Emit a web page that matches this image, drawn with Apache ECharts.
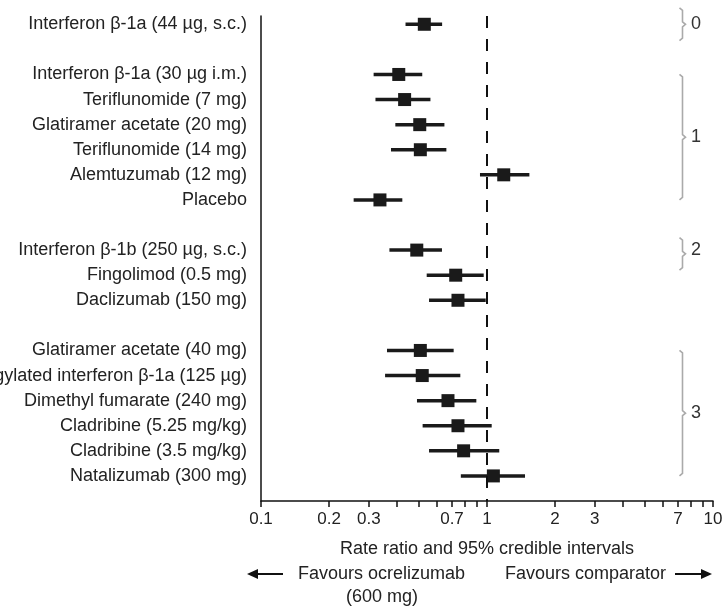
<!DOCTYPE html>
<html>
<head>
<meta charset="utf-8">
<script src="https://cdn.jsdelivr.net/npm/echarts@6/dist/echarts.min.js"></script>
<style>html,body{margin:0;padding:0;background:#fff;}#c{width:725px;height:606px;}</style>
</head>
<body>
<div id="c"></div>
<script>
const rowNames = [
  'Interferon β-1a (44 µg, s.c.)', '',
  'Interferon β-1a (30 µg i.m.)', 'Teriflunomide (7 mg)', 'Glatiramer acetate (20 mg)',
  'Teriflunomide (14 mg)', 'Alemtuzumab (12 mg)', 'Placebo', '',
  'Interferon β-1b (250 µg, s.c.)', 'Fingolimod (0.5 mg)', 'Daclizumab (150 mg)', '',
  'Glatiramer acetate (40 mg)', 'Pegylated interferon β-1a (125 µg)', 'Dimethyl fumarate (240 mg)',
  'Cladribine (5.25 mg/kg)', 'Cladribine (3.5 mg/kg)', 'Natalizumab (300 mg)'
];
const pointEst = [0.528, null, 0.407, 0.432, 0.504, 0.507, 1.186, 0.336, null, 0.489, 0.727, 0.744, null, 0.507, 0.517, 0.672, 0.744, 0.788, 1.067];
const lowerCI  = [0.436, null, 0.315, 0.321, 0.393, 0.376, 0.931, 0.257, null, 0.370, 0.541, 0.554, null, 0.361, 0.354, 0.490, 0.519, 0.554, 0.766];
const upperCI  = [0.633, null, 0.517, 0.562, 0.648, 0.661, 1.540, 0.422, null, 0.632, 0.967, 0.987, null, 0.712, 0.762, 0.897, 1.049, 1.133, 1.473];
const tickValues  = [0.1, 0.2, 0.3, 0.4, 0.5, 0.6, 0.7, 0.8, 0.9, 1, 2, 3, 4, 5, 6, 7, 8, 9, 10];
const tickLabels  = [0.1, 0.2, 0.3, 0.7, 1, 2, 3, 7, 10];
const groupLabels = ['0', '1', '2', '3'];
const groupFrom   = [-0.65, 2, 8.5, 13];
const groupTo     = [0.65, 7, 9.8, 18];
const groupLabelAt = [0, 4.5, 9, 15.5];

const FONT = '"Liberation Sans", Arial, sans-serif';
const TXT = '#222';

const ciData = [];
pointEst.forEach((p, i) => { if (p != null) ciData.push([lowerCI[i], p, upperCI[i], i]); });
const labelRows = [];
rowNames.forEach((n, i) => { if (n) labelRows.push(i); });
const groupData = groupLabels.map((g, i) => [1, groupFrom[i], groupTo[i], groupLabelAt[i], i]);

const chart = echarts.init(document.getElementById('c'));
chart.setOption({
  animation: false,
  backgroundColor: '#fff',
  grid: { left: 261, right: 12, top: 16, bottom: 105, containLabel: false, outerBoundsMode: 'none' },
  xAxis: {
    type: 'log', logBase: 10, min: 0.1, max: 10,
    axisLine: { show: true, onZero: false, lineStyle: { color: '#111', width: 1.5 } },
    axisTick: { show: true, customValues: tickValues, length: 6, lineStyle: { color: '#111', width: 1.5 } },
    axisLabel: { customValues: tickLabels, margin: 10, fontSize: 17, fontFamily: FONT, color: TXT,
      formatter: v => String(+(+v).toPrecision(3)) },
    splitLine: { show: false },
    minorTick: { show: false },
    name: 'Rate ratio and 95% credible intervals',
    nameLocation: 'middle', nameGap: 39, nameMoveOverlap: false,
    nameTextStyle: { fontSize: 18, fontFamily: FONT, color: TXT }
  },
  yAxis: {
    type: 'value', inverse: true, min: -0.33, max: 19,
    axisLine: { show: true, onZero: false, lineStyle: { color: '#111', width: 1.5 } },
    axisTick: { show: false },
    splitLine: { show: false },
    axisLabel: { customValues: labelRows, margin: 14, fontSize: 18, fontFamily: FONT, color: TXT,
      formatter: v => rowNames[Math.round(v)] }
  },
  series: [
    {
      type: 'custom',
      data: ciData,
      encode: { x: [0, 1, 2], y: 3 },
      renderItem: (params, api) => {
        const row = api.value(3);
        const a = api.coord([api.value(0), row]);
        const b = api.coord([api.value(2), row]);
        const c = api.coord([api.value(1), row]);
        const s = 13;
        return {
          type: 'group',
          children: [
            { type: 'line', shape: { x1: a[0], y1: a[1], x2: b[0], y2: b[1] },
              style: { stroke: '#1a1a1a', lineWidth: 3.5 } },
            { type: 'rect', shape: { x: c[0] - s / 2, y: c[1] - s / 2, width: s, height: s },
              style: { fill: '#1a1a1a' } }
          ]
        };
      },
      markLine: {
        silent: true, symbol: ['none', 'none'],
        label: { show: false },
        lineStyle: { color: '#111', width: 2, type: [12, 11] },
        data: [{ xAxis: 1 }]
      },
      z: 3
    },
    {
      type: 'custom',
      data: groupData,
      encode: { x: 0, y: [1, 2] },
      renderItem: (params, api) => {
        const cs = params.coordSys;
        const bx = cs.x + cs.width - 30.5;
        const y1 = api.coord([1, api.value(1)])[1];
        const y2 = api.coord([1, api.value(2)])[1];
        const yl = api.coord([1, api.value(3)])[1];
        const ym = (y1 + y2) / 2;
        return {
          type: 'group',
          children: [
            { type: 'polyline',
              shape: { points: [[bx - 3, y1], [bx, y1 + 2.5], [bx, ym - 2.5], [bx + 3, ym], [bx, ym + 2.5], [bx, y2 - 2.5], [bx - 3, y2]] },
              style: { stroke: '#aaa', lineWidth: 1.6, fill: null } },
            { type: 'text', x: bx + 8.5, y: yl,
              style: { text: groupLabels[api.value(4)], fontSize: 18, fontFamily: FONT, fill: '#333',
                align: 'left', verticalAlign: 'middle' } }
          ]
        };
      }
    }
  ],
  graphic: [
    { type: 'text', x: 298, y: 574, style: { text: 'Favours ocrelizumab', fontSize: 18, fontFamily: FONT, fill: TXT, align: 'left', verticalAlign: 'middle' } },
    { type: 'text', x: 382, y: 597, style: { text: '(600 mg)', fontSize: 18, fontFamily: FONT, fill: TXT, align: 'center', verticalAlign: 'middle' } },
    { type: 'text', x: 505, y: 574, style: { text: 'Favours comparator', fontSize: 18, fontFamily: FONT, fill: TXT, align: 'left', verticalAlign: 'middle' } },
    { type: 'line', shape: { x1: 254, y1: 574, x2: 283, y2: 574 }, style: { stroke: '#111', lineWidth: 2 } },
    { type: 'polygon', shape: { points: [[247, 574], [258, 569], [258, 579]] }, style: { fill: '#111' } },
    { type: 'line', shape: { x1: 675, y1: 574, x2: 705, y2: 574 }, style: { stroke: '#111', lineWidth: 2 } },
    { type: 'polygon', shape: { points: [[712, 574], [701, 569], [701, 579]] }, style: { fill: '#111' } }
  ]
});
</script>
</body>
</html>
